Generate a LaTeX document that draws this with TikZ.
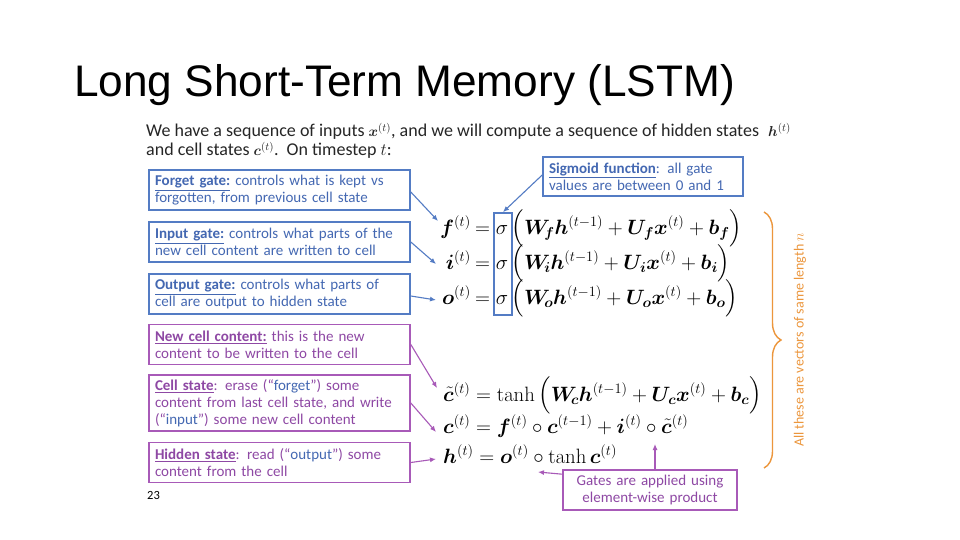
\documentclass[tikz,border=0pt]{standalone}
\usepackage{amsmath,bm}
\usepackage[no-math]{fontspec}
\setmainfont{Carlito}
\newfontfamily\titlefont{Liberation Sans}
\usetikzlibrary{arrows.meta,decorations.pathreplacing}
\definecolor{boxblue}{RGB}{84,124,196}
\definecolor{txtblue}{RGB}{68,104,178}
\definecolor{boxpurple}{RGB}{168,90,184}
\definecolor{txtpurple}{RGB}{142,72,164}
\definecolor{braceorange}{RGB}{236,150,60}
\newcommand{\smallmath}[1]{{\fontsize{15.5}{17}\selectfont$#1$}}
\begin{document}
\begin{tikzpicture}[x=1pt,y=-1pt,
  bluebox/.style={draw=boxblue, line width=1.6pt, minimum width=261pt, minimum height=40pt,
    text width=249pt, align=left, inner xsep=6pt, inner ysep=2pt,
    font=\fontsize{15}{17}\selectfont, text=txtblue},
  purplebox/.style={bluebox, draw=boxpurple, text=txtpurple},
  eq/.style={inner sep=0pt, font=\fontsize{21}{25}\selectfont},
  bluearrow/.style={draw=boxblue, line width=1.1pt, -{Latex[length=6pt,width=5pt]}},
  purplearrow/.style={draw=boxpurple, line width=1.1pt, -{Latex[length=6pt,width=5pt]}},
  bodytext/.style={inner sep=0pt, font=\fontsize{18}{19}\selectfont, text=black!85}
]
\fill[white] (0,0) rectangle (960,540);
\useasboundingbox (0,0) rectangle (960,540);

% title
\node[anchor=base west, inner sep=0pt, font=\titlefont\fontsize{44.2}{50}\selectfont] (title) at (74,97) {Long Short-Term Memory (LSTM)};

% intro
\node[bodytext, anchor=base west] (intro1) at (146,137) {We have a sequence of inputs \smallmath{\bm{x}^{(t)}}, and we will compute a sequence of hidden states \;\smallmath{\bm{h}^{(t)}}};
\node[bodytext, anchor=base west] (intro2) at (146,156) {and cell states \smallmath{\bm{c}^{(t)}}.\ \ On timestep $t$:};

% left boxes
\node[bluebox] (forget) at (279.5,190) {\textbf{\underline{Forget gate:}} controls what is kept vs\\forgotten, from previous cell state};
\node[bluebox] (input) at (279.5,242) {\textbf{\underline{Input gate:}} controls what parts of the\\new cell content are written to cell};
\node[bluebox] (output) at (279.5,294) {\textbf{\underline{Output gate:}} controls what parts of\\cell are output to hidden state};
\node[purplebox] (newcell) at (279.5,344.5) {\textbf{\underline{New cell content:}} this is the new\\content to be written to the cell};
\node[purplebox, minimum height=56pt] (cellstate) at (279.5,403) {\textbf{\underline{Cell state}}: erase (“\textcolor{txtblue}{forget}”) some\\content from last cell state, and write\\(“\textcolor{txtblue}{input}”) some new cell content};
\node[purplebox] (hidden) at (279.5,462.5) {\textbf{\underline{Hidden state}}: read (“\textcolor{txtblue}{output}”) some\\content from the cell};
\node[anchor=base west, inner sep=0pt, font=\fontsize{12.5}{14}\selectfont] (pagenum) at (147,499) {23};

% sigmoid callout
\node[bluebox, minimum width=200pt, text width=188pt, minimum height=39pt] (sigm) at (643,176.5) {\textbf{\underline{Sigmoid function}}: all gate\\values are between 0 and 1};

% gate equations
\node[eq, anchor=base east] (flhs) at (471,234) {$\bm{f}^{(t)}$};
\node[eq, anchor=base west] (frhs) at (475,234) {$=\sigma\,\Bigl(\bm{W}_{\!\bm{f}}\bm{h}^{(t-1)}+\bm{U}_{\bm{f}}\bm{x}^{(t)}+\bm{b}_{\bm{f}}\Bigr)$};
\node[eq, anchor=base east] (ilhs) at (471,269) {$\bm{i}^{(t)}$};
\node[eq, anchor=base west] (irhs) at (475,269) {$=\sigma\,\Bigl(\bm{W}_{\!\bm{i}}\bm{h}^{(t-1)}+\bm{U}_{\bm{i}}\bm{x}^{(t)}+\bm{b}_{\bm{i}}\Bigr)$};
\node[eq, anchor=base east] (olhs) at (471,304) {$\bm{o}^{(t)}$};
\node[eq, anchor=base west] (orhs) at (475,304) {$=\sigma\,\Bigl(\bm{W}_{\!\bm{o}}\bm{h}^{(t-1)}+\bm{U}_{\bm{o}}\bm{x}^{(t)}+\bm{b}_{\bm{o}}\Bigr)$};

% sigma highlight
\node[draw=boxblue, line width=1.8pt, minimum width=18pt, minimum height=102pt, inner sep=0pt] (sigbar) at (503,264) {};

% cell equations
\node[eq, anchor=base west] (ctilde) at (443,401) {$\tilde{\bm{c}}^{(t)}=\tanh\,\Bigl(\bm{W}_{\!\bm{c}}\bm{h}^{(t-1)}+\bm{U}_{\bm{c}}\bm{x}^{(t)}+\bm{b}_{\bm{c}}\Bigr)$};
\node[eq, anchor=base west] (ceq) at (443,433) {$\bm{c}^{(t)}=\bm{f}^{(t)}\circ\bm{c}^{(t-1)}+\bm{i}^{(t)}\circ\tilde{\bm{c}}^{(t)}$};
\node[eq, anchor=base west] (heq) at (443,463) {$\bm{h}^{(t)}=\bm{o}^{(t)}\circ\tanh\bm{c}^{(t)}$};

% gates callout
\node[purplebox, minimum width=174pt, text width=162pt, align=center] (gates) at (650,490) {Gates are applied using\\element-wise product};

% arrow targets
\coordinate (tf) at (438,221);
\coordinate (ti) at (436,264);
\coordinate (to) at (436,300);
\coordinate (tct) at (437,388);
\coordinate (tc) at (436,432);
\coordinate (th) at (436,459);
\coordinate (tcirc1) at (538,472);
\coordinate (tcirc2) at (655,444);

\draw[bluearrow] ([yshift=-2pt]forget.east) -- (tf);
\draw[bluearrow] (input.east) -- (ti);
\draw[bluearrow] ([yshift=-2pt]output.east) -- (to);
\draw[purplearrow] (newcell.east) -- (tct);
\draw[purplearrow] (cellstate.east) -- (tc);
\draw[purplearrow] (hidden.east) -- (th);
\draw[bluearrow] ([yshift=1.5pt]sigm.west) -- (sigbar.north);
\draw[purplearrow] ([yshift=-5pt]gates.north west) -- (tcirc1);
\draw[purplearrow] (gates.north -| tcirc2) -- (tcirc2);

% brace
\coordinate (bt) at (764,212);
\coordinate (bb) at (764,468);
\draw[braceorange, line width=1.4pt, decorate, decoration={brace, amplitude=17pt}] (bt) -- (bb);
\node[rotate=90, inner sep=0pt, text=braceorange, font=\fontsize{14}{16}\selectfont] (vecnote) at (800,340) {All these are vectors of same length $n$};
\end{tikzpicture}
\end{document}
